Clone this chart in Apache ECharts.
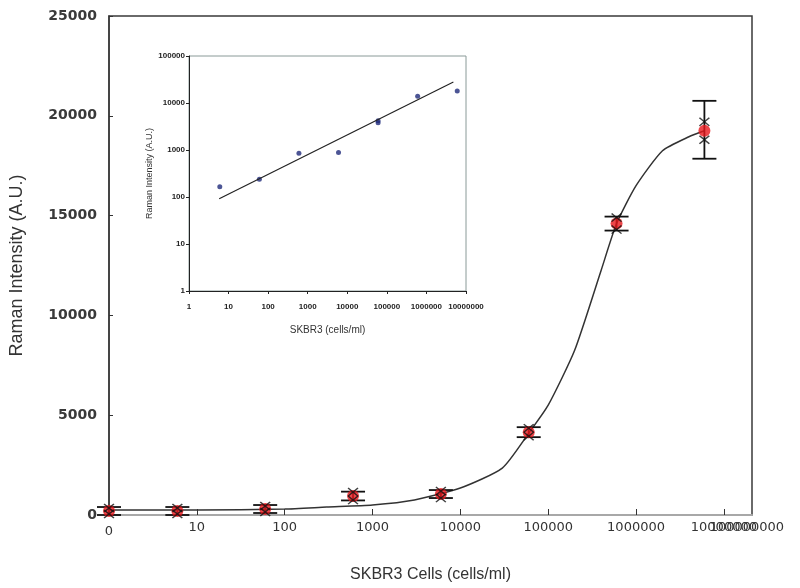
<!DOCTYPE html>
<html>
<head>
<meta charset="utf-8">
<script src="https://cdn.jsdelivr.net/npm/echarts@6/dist/echarts.min.js"></script>
<style>html,body{margin:0;padding:0;background:#fff}#c{width:800px;height:588px}</style>
</head>
<body>
<div id="c"></div>
<script>
// ---- main chart data (control "0" drawn at axis start = 1) ----
const conc      = [1, 6, 60, 600, 6000, 60000, 600000, 6000000];
const meanVal   = [200, 200, 300, 950, 1050, 4150, 14600, 19250];
const errHigh   = [400, 400, 500, 1170, 1250, 4400, 14950, 20750];
const errLow    = [0, 0, 100, 730, 850, 3900, 14250, 17850];
const repHigh   = [350, 350, 450, 1150, 1200, 4350, 14900, 19700];
const repLow    = [50, 50, 150, 750, 850, 3950, 14300, 18800];
// fitted sigmoid curve
const curveX    = [1, 10, 100, 300, 1000, 3000, 10000, 30000, 60000, 100000, 200000, 400000, 600000, 1000000, 2000000, 4000000, 6000000];
const curveY    = [250, 250, 300, 400, 500, 750, 1350, 2350, 4100, 5500, 8250, 12250, 14600, 16500, 18250, 18950, 19250];
const yTicks    = [0, 5000, 10000, 15000, 20000, 25000];
// ---- inset (log-log) data ----
const insetX    = [6, 60, 600, 6000, 60000, 60000, 600000, 6000000];
const insetY    = [165, 240, 850, 880, 4200, 3800, 14000, 18000];
const fitX      = [5.8, 4800000];
const fitY      = [92, 28000];

const X_PATH = 'path://M0,1L1,0L5,4L9,0L10,1L6,5L10,9L9,10L5,6L1,10L0,9L4,5Z';
const chart = echarts.init(document.getElementById('c'));
const FONT = 'Liberation Sans';
const WIDE = 'DejaVu Sans';

const pair = (xs, ys) => xs.map((x, i) => [x, ys[i]]);

chart.setOption({
  animation: false,
  backgroundColor: '#fff',
  textStyle: {fontFamily: FONT},
  grid: [
    {left: 108, right: 48, top: 16, bottom: 73, show: true, borderColor: '#3a3a3a', borderWidth: 1.5, backgroundColor: 'transparent'},
    {left: 189, top: 56, width: 277, height: 235, show: true, borderColor: '#8a9a98', borderWidth: 1}
  ],
  xAxis: [
    {
      type: 'log', gridIndex: 0, min: 1, max: Math.pow(10, 7.32), logBase: 10,
      name: 'SKBR3 Cells (cells/ml)', nameLocation: 'middle', nameGap: 52,
      nameTextStyle: {fontSize: 16, color: '#333', fontFamily: FONT},
      axisLine: {show: true, lineStyle: {color: '#a8a8a8', width: 2}},
      axisTick: {show: true, inside: true, length: 6, lineStyle: {color: '#333'}},
      minorTick: {show: false}, splitLine: {show: false},
      axisLabel: {
        fontSize: 13, fontFamily: WIDE, color: '#333', margin: 6, showMaxLabel: false,
        formatter: v => (v <= 1 ? '{z|0}' : String(Math.round(v))),
        rich: {z: {fontSize: 13, fontFamily: WIDE, color: '#333', padding: [4, 0, 0, 0]}}
      }
    },
    {
      type: 'log', gridIndex: 0, min: 1, max: Math.pow(10, 7.32), logBase: 10, position: 'bottom',
      axisLine: {show: false}, axisTick: {show: false}, splitLine: {show: false},
      axisLabel: {
        fontSize: 13, fontFamily: WIDE, color: '#333', margin: 6, showMaxLabel: false,
        formatter: v => (Math.abs(v - 1e7) < 1 ? '{o|100000000}' : ''),
        rich: {o: {fontSize: 13, fontFamily: WIDE, color: '#333', padding: [0, 0, 0, 46]}}
      }
    },
    {
      type: 'log', gridIndex: 1, min: 1, max: 1e7, logBase: 10,
      name: 'SKBR3 (cells/ml)', nameLocation: 'middle', nameGap: 34,
      nameTextStyle: {fontSize: 10, color: '#333', fontFamily: FONT},
      axisLine: {show: true, lineStyle: {color: '#222'}},
      axisTick: {show: true, length: 3, lineStyle: {color: '#222'}},
      splitLine: {show: false},
      axisLabel: {fontSize: 8, fontWeight: 'bold', color: '#222', margin: 12, formatter: v => String(Math.round(v))}
    }
  ],
  yAxis: [
    {
      type: 'value', gridIndex: 0, min: 0, max: 25000, interval: 5000,
      name: 'Raman Intensity (A.U.)', nameLocation: 'middle', nameGap: 83, nameRotate: 90,
      nameTextStyle: {fontSize: 18, color: '#333', fontFamily: FONT},
      axisLine: {show: true, lineStyle: {color: '#3a3a3a', width: 1.5}},
      axisTick: {show: true, inside: true, length: 4, lineStyle: {color: '#333'}},
      splitLine: {show: false},
      axisLabel: {fontSize: 14, fontFamily: WIDE, color: '#3a3a3a', margin: 12, fontWeight: 'bold', formatter: v => String(v)}
    },
    {
      type: 'log', gridIndex: 1, min: 1, max: 1e5, logBase: 10,
      name: 'Raman Intensity (A.U.)', nameLocation: 'middle', nameGap: 27, nameRotate: 90,
      nameTextStyle: {fontSize: 9, color: '#333', fontFamily: FONT},
      axisLine: {show: true, lineStyle: {color: '#222'}},
      axisTick: {show: true, length: 3, lineStyle: {color: '#222'}},
      splitLine: {show: false},
      axisLabel: {fontSize: 8, fontWeight: 'bold', color: '#222', margin: 4, formatter: v => String(Math.round(v))}
    }
  ],
  series: [
    {
      type: 'line', xAxisIndex: 0, yAxisIndex: 0, data: pair(curveX, curveY),
      smooth: 0.2, symbol: 'none', lineStyle: {color: '#333', width: 1.5}, z: 2
    },
    {
      type: 'custom', xAxisIndex: 0, yAxisIndex: 0,
      data: conc.map((c, i) => [c, errLow[i], errHigh[i]]),
      renderItem: (params, api) => {
        const lo = api.coord([api.value(0), api.value(1)]);
        const hi = api.coord([api.value(0), api.value(2)]);
        const w = 12;
        const st = {stroke: '#111', lineWidth: 1.8};
        return {type: 'group', children: [
          {type: 'line', shape: {x1: lo[0], y1: lo[1], x2: hi[0], y2: hi[1]}, style: st},
          {type: 'line', shape: {x1: lo[0] - w, y1: lo[1], x2: lo[0] + w, y2: lo[1]}, style: st},
          {type: 'line', shape: {x1: hi[0] - w, y1: hi[1], x2: hi[0] + w, y2: hi[1]}, style: st}
        ]};
      },
      z: 3
    },
    {
      type: 'scatter', xAxisIndex: 0, yAxisIndex: 0, data: pair(conc, meanVal),
      symbol: 'circle', symbolSize: 12, itemStyle: {color: '#e8161b'}, z: 4
    },
    {
      type: 'scatter', xAxisIndex: 0, yAxisIndex: 0, data: pair(conc, repHigh).concat(pair(conc, repLow)),
      symbol: X_PATH, symbolSize: [11, 9], itemStyle: {color: '#111'}, z: 5
    },
    {
      type: 'line', xAxisIndex: 2, yAxisIndex: 1, data: pair(fitX, fitY),
      symbol: 'none', lineStyle: {color: '#222', width: 1.2}
    },
    {
      type: 'scatter', xAxisIndex: 2, yAxisIndex: 1, data: pair(insetX, insetY),
      symbol: 'circle', symbolSize: 5, itemStyle: {color: '#1f2a7a'}
    }
  ]
});
</script>
</body>
</html>
